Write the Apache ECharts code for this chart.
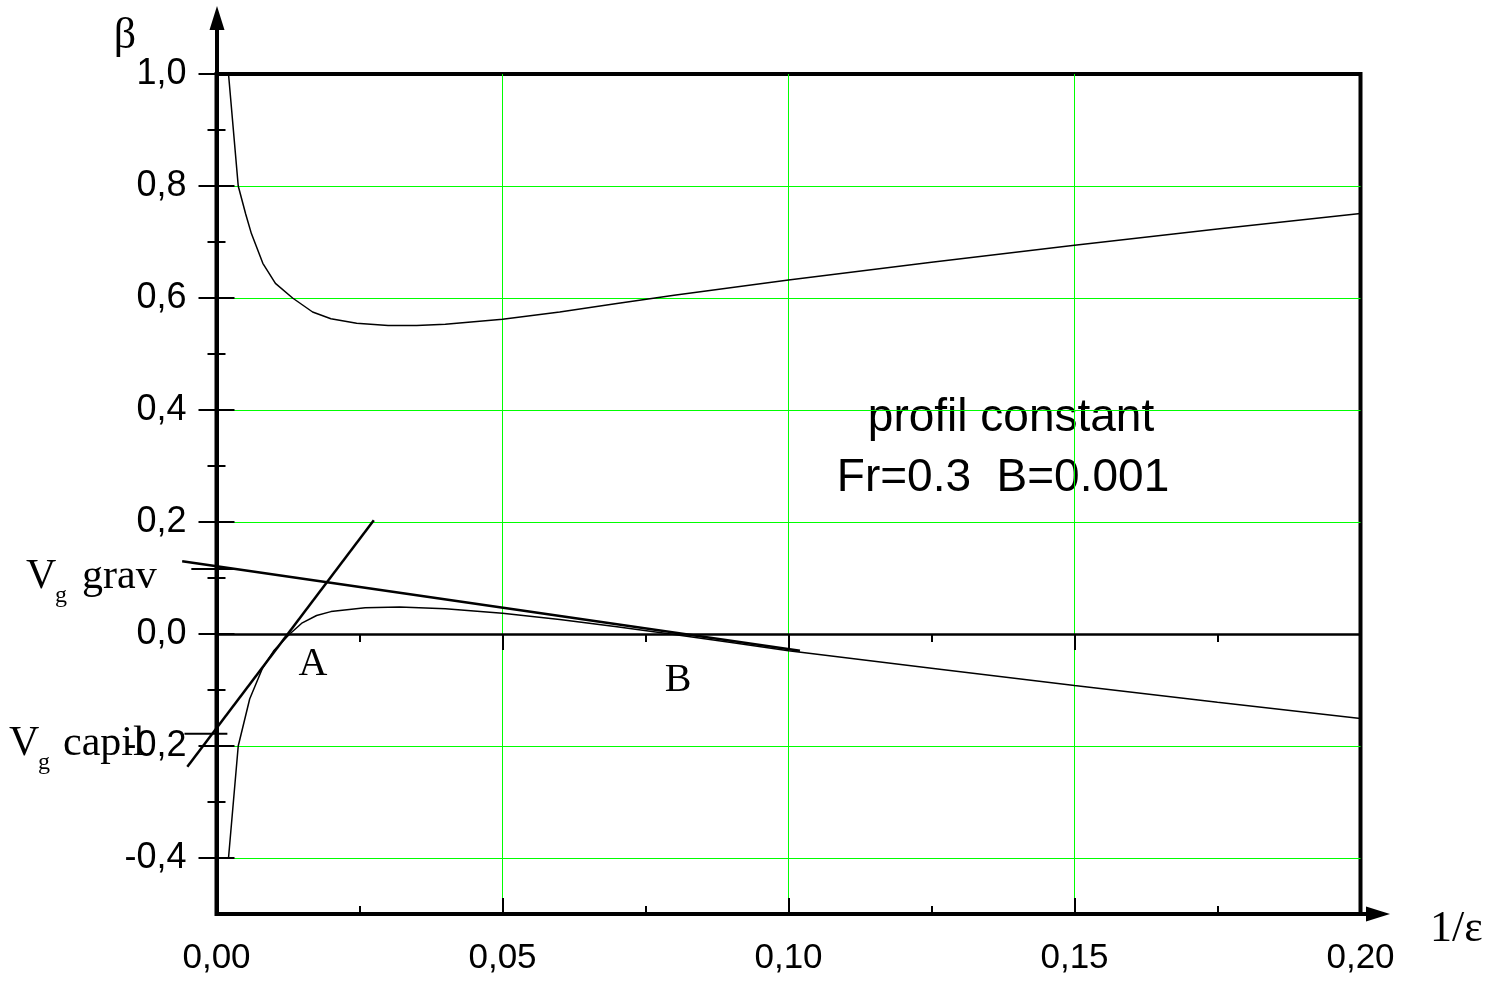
<!DOCTYPE html>
<html>
<head>
<meta charset="utf-8">
<script src="https://cdn.jsdelivr.net/npm/echarts@6/dist/echarts.min.js"></script>
<style>
  html, body { margin: 0; padding: 0; background: #fff; }
  #main { width: 1507px; height: 987px; }
</style>
</head>
<body>
<div id="main"></div>
<script>
// axes ranges
var xMin = 0, xMax = 0.20, xStep = 0.05;
var yMin = -0.5, yMax = 1.0;
var yTickMin = -0.4, yStep = 0.2;
var xOverhang = -0.01; // tangents run a little left of the beta axis

// upper branch of beta(1/eps)
var upperCurve = [
  [0.0021, 1.000], [0.0038, 0.800], [0.0051, 0.750], [0.0061, 0.715],
  [0.0081, 0.662], [0.0103, 0.626], [0.0133, 0.600], [0.0168, 0.575],
  [0.0200, 0.563], [0.0245, 0.555], [0.0300, 0.551], [0.0350, 0.551],
  [0.0400, 0.553], [0.0500, 0.562], [0.0600, 0.575], [0.0700, 0.590],
  [0.0800, 0.605], [0.1000, 0.632], [0.1250, 0.664], [0.1500, 0.694],
  [0.1750, 0.723], [0.2000, 0.751]
];

// lower branch
var lowerCurve = [
  [0.0021, -0.400], [0.0038, -0.200], [0.0058, -0.116], [0.0080, -0.062],
  [0.0100, -0.030], [0.0128, 0.000], [0.0150, 0.020], [0.0175, 0.033],
  [0.0200, 0.040], [0.0260, 0.047], [0.0320, 0.048], [0.0400, 0.045],
  [0.0500, 0.037], [0.0600, 0.026], [0.0700, 0.013], [0.0800, -0.001],
  [0.0900, -0.015], [0.1000, -0.030], [0.1250, -0.061], [0.1500, -0.092],
  [0.1750, -0.122], [0.2000, -0.151]
];

// tangents
var tangentA = [[-0.0051, -0.237], [0.0275, 0.203]];
var tangentB = [[-0.0060, 0.130], [0.1020, -0.030]];

// intercept marks on the beta axis
var markGrav = [[-0.0044, 0.116], [0.0031, 0.116]];
var markCapil = [[-0.0056, -0.178], [0.0019, -0.178]];

var sans = '"Liberation Sans", Arial, sans-serif';
var serif = '"Liberation Serif", "Times New Roman", serif';
var green = '#00ff00';

function fmt(v, d) {
  return v.toFixed(d).replace('.', ',');
}

var chart = echarts.init(document.getElementById('main'));

var tickStyle = { color: '#000', width: 2 };
var noSplit = { show: false };

// plot area in px
var plotLeft = 216.5, plotRight = 146.5;
var pxPerUnit = (1507 - plotLeft - plotRight) / (xMax - xMin);

function lineSeries(data, w, axisIdx) {
  return {
    type: 'line',
    xAxisIndex: axisIdx,
    yAxisIndex: axisIdx,
    data: data,
    symbol: 'none',
    clip: false,
    silent: true,
    lineStyle: { color: '#000', width: w }
  };
}

function txt(x, y, s, font, align) {
  return {
    type: 'text', x: x, y: y, silent: true,
    style: { text: s, font: font, fill: '#000', textAlign: align, textVerticalAlign: 'middle', align: align, verticalAlign: 'middle' }
  };
}

var option = {
  animation: false,
  backgroundColor: '#fff',
  tooltip: { show: false },
  grid: [
    // plot area, 1.0 .. -0.5
    { left: plotLeft, right: plotRight, top: 74, bottom: 73, show: true, borderColor: '#000', borderWidth: 4, backgroundColor: 'transparent' },
    // labelled beta ticks, 1.0 .. -0.4
    { left: plotLeft, right: plotRight, top: 74, bottom: 129 },
    // axis lines with arrows
    { left: 217, right: 129, top: 18, bottom: 73 },
    // same scale as plot area, widened to the left for the tangents
    { left: plotLeft + xOverhang * pxPerUnit, right: plotRight, top: 74, bottom: 73 }
  ],
  xAxis: [
    {
      gridIndex: 0, type: 'value', position: 'bottom', min: xMin, max: xMax, interval: xStep,
      axisLine: { show: false },
      axisTick: { show: true, length: 16, lineStyle: tickStyle },
      minorTick: { show: true, splitNumber: 2, length: 8, lineStyle: tickStyle },
      axisLabel: {
        color: '#000', fontSize: 35, fontFamily: sans, margin: 27,
        formatter: function (v) { return fmt(v, 2); }
      },
      splitLine: { show: true, showMinLine: false, showMaxLine: false, lineStyle: { color: green, width: 1 } }
    },
    {
      gridIndex: 0, type: 'value', position: 'bottom', min: xMin, max: xMax, interval: xStep,
      axisLine: { show: false },
      axisTick: { show: true, inside: true, length: 16, lineStyle: tickStyle },
      minorTick: { show: true, splitNumber: 2, length: 8, lineStyle: tickStyle },
      axisLabel: { show: false },
      splitLine: noSplit
    },
    { gridIndex: 1, type: 'value', min: xMin, max: xMax, show: false, splitLine: noSplit },
    {
      gridIndex: 2, type: 'value', position: 'bottom', min: 0, max: 1,
      axisLine: { show: true, symbol: ['none', 'triangle'], symbolSize: [15, 24], lineStyle: { color: '#000', width: 4 } },
      axisTick: { show: false }, axisLabel: { show: false }, splitLine: noSplit
    },
    { gridIndex: 3, type: 'value', min: xOverhang, max: xMax, show: false, splitLine: noSplit }
  ],
  yAxis: [
    { gridIndex: 0, type: 'value', min: yMin, max: yMax, show: false, splitLine: noSplit },
    {
      gridIndex: 1, type: 'value', position: 'left', min: yTickMin, max: yMax, interval: yStep,
      axisLine: { show: false },
      axisTick: { show: true, length: 18, lineStyle: tickStyle },
      minorTick: { show: true, splitNumber: 2, length: 9, lineStyle: tickStyle },
      axisLabel: {
        color: '#000', fontSize: 36, fontFamily: sans, margin: 30,
        formatter: function (v) { return fmt(v, 1); }
      },
      splitLine: { show: true, showMaxLine: false, lineStyle: { color: green, width: 1 } }
    },
    {
      gridIndex: 1, type: 'value', position: 'left', min: yTickMin, max: yMax, interval: yStep,
      axisLine: { show: false },
      axisTick: { show: true, inside: true, length: 18, lineStyle: tickStyle },
      minorTick: { show: true, splitNumber: 2, length: 9, lineStyle: tickStyle },
      axisLabel: { show: false },
      splitLine: noSplit
    },
    {
      gridIndex: 2, type: 'value', position: 'left', min: 0, max: 1,
      axisLine: { show: true, symbol: ['none', 'triangle'], symbolSize: [15, 24], lineStyle: { color: '#000', width: 4 } },
      axisTick: { show: false }, axisLabel: { show: false }, splitLine: noSplit
    },
    { gridIndex: 3, type: 'value', min: yMin, max: yMax, show: false, splitLine: noSplit }
  ],
  series: [
    Object.assign(lineSeries(lowerCurve, 1.5, 0), {
      markLine: {
        silent: true, symbol: 'none', label: { show: false },
        lineStyle: { color: '#000', width: 2.5, type: 'solid' },
        data: [{ yAxis: 0 }]
      }
    }),
    lineSeries(upperCurve, 1.5, 0),
    lineSeries(tangentA, 2.5, 4),
    lineSeries(tangentB, 2.5, 4),
    lineSeries(markGrav, 2, 4),
    lineSeries(markCapil, 2, 4)
  ],
  graphic: [
    txt(125, 36, 'β', '44px ' + serif, 'center'),
    txt(1430, 929, '1/ε', '44px ' + serif, 'left'),
    txt(26, 577, 'V', '42px ' + serif, 'left'),
    txt(55, 596, 'g', '24px ' + serif, 'left'),
    txt(82, 577, 'grav', '42px ' + serif, 'left'),
    txt(9, 744, 'V', '42px ' + serif, 'left'),
    txt(38, 763, 'g', '24px ' + serif, 'left'),
    txt(63, 744, 'capil', '42px ' + serif, 'left'),
    txt(313, 664, 'A', '40px ' + serif, 'center'),
    txt(678, 680, 'B', '40px ' + serif, 'center'),
    txt(1011, 418, 'profil constant', '46px ' + sans, 'center'),
    txt(1003, 478, 'Fr=0.3  B=0.001', '46px ' + sans, 'center')
  ]
};

chart.setOption(option);
</script>
</body>
</html>
